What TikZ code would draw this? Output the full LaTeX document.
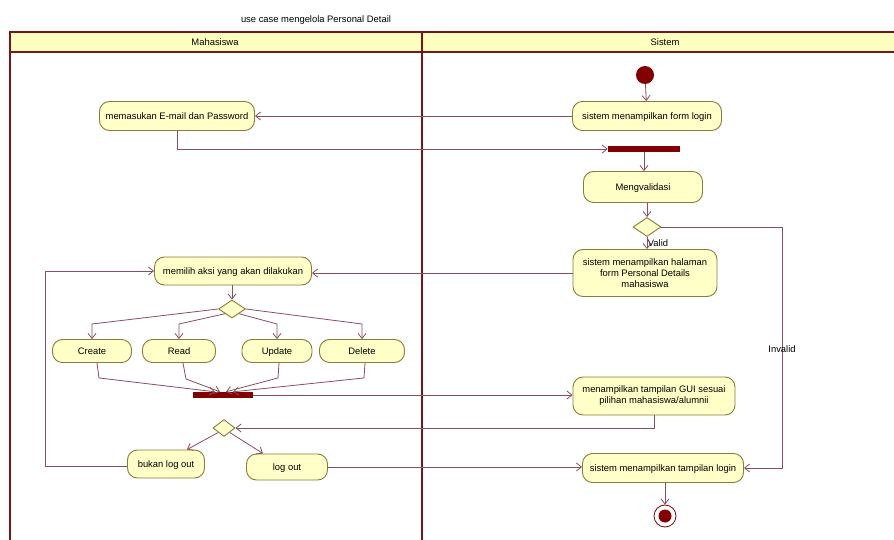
\documentclass[tikz,border=0pt]{standalone}
\usepackage{fontspec}
\setmainfont{Liberation Sans}
\usetikzlibrary{shapes.geometric,arrows.meta,calc}

\definecolor{laneline}{HTML}{7A1418}
\definecolor{headfill}{HTML}{FFFFC0}
\definecolor{actfill}{HTML}{FFFFC8}
\definecolor{actline}{HTML}{8A7A3C}
\definecolor{flowline}{HTML}{8B4E5C}
\definecolor{solid}{HTML}{820000}

\tikzset{
  act/.style={draw=actline, fill=actfill, line width=0.9pt, rounded corners=10pt,
    align=center, inner sep=2pt, font=\fontsize{9.4}{11}\selectfont},
  oneline/.style={text height=1.6ex, text depth=0.45ex},
  decision/.style={diamond, draw=actline, fill=actfill, line width=0.9pt, inner sep=0pt},
  bar/.style={fill=solid, draw=none, inner sep=0pt},
  flow/.style={draw=flowline, line width=0.8pt, -{Straight Barb[length=5pt,width=8pt]}},
  lane/.style={draw=laneline, line width=1.6pt},
  lbl/.style={font=\fontsize{9.4}{11}\selectfont, inner sep=1pt}
}

\begin{document}
\begin{tikzpicture}[x=1pt,y=-1pt]
  \useasboundingbox (0,0) rectangle (894,540);
  \clip (0,0) rectangle (894,540);
  \fill[white] (0,0) rectangle (894,540);

  % title
  \node[lbl] (title) at (316,20) {use case mengelola Personal Detail};

  % swimlanes
  \fill[headfill] (10,32) rectangle (900,52);
  \draw[lane] (10,545) -- (10,32) -- (900,32);
  \draw[lane, line width=1.2pt] (10,52) -- (900,52);
  \draw[lane, line width=2.2pt] (422,32) -- (422,545);
  \node[lbl] (laneA) at (215,42) {Mahasiswa};
  \node[lbl] (laneB) at (665,42) {Sistem};

  % Sistem lane
  \node[circle, fill=solid, minimum size=18pt, inner sep=0pt] (start) at (645,75) {};
  \node[act, oneline, minimum width=149pt, minimum height=29pt] (login) at (647,116) {sistem menampilkan form login};
  \node[bar, minimum width=72pt, minimum height=6pt] (fork) at (644,149) {};
  \node[act, oneline, minimum width=119pt, minimum height=31pt] (validasi) at (643,187) {Mengvalidasi};
  \node[decision, minimum width=28pt, minimum height=19pt] (dec1) at (647,227) {};
  \node[act, minimum width=144pt, minimum height=47pt] (halaman) at (645,273)
    {sistem menampilkan halaman\\form Personal Details\\mahasiswa};
  \node[act, minimum width=162pt, minimum height=38pt] (gui) at (654,396)
    {menampilkan tampilan GUI sesuai\\pilihan mahasiswa/alumnii};
  \node[act, oneline, minimum width=161pt, minimum height=29pt] (tampil) at (663,468) {sistem menampilkan tampilan login};
  \node[circle, draw=solid, fill=white, line width=0.8pt, minimum size=22pt, inner sep=0pt] (final) at (665,516) {};
  \node[circle, fill=solid, minimum size=13pt, inner sep=0pt] (finaldot) at (665,516) {};

  % Mahasiswa lane
  \node[act, oneline, minimum width=155pt, minimum height=29pt] (email) at (177,116) {memasukan E-mail dan Password};
  \node[act, oneline, minimum width=157pt, minimum height=28pt] (memilih) at (233,271) {memilih aksi yang akan dilakukan};
  \node[decision, minimum width=27pt, minimum height=18pt] (dec2) at (232,309) {};
  \node[act, oneline, minimum width=79pt, minimum height=23pt] (create) at (92,351) {Create};
  \node[act, oneline, minimum width=73pt, minimum height=23pt] (read) at (179,351) {Read};
  \node[act, oneline, minimum width=70pt, minimum height=23pt] (update) at (277,351) {Update};
  \node[act, oneline, minimum width=85pt, minimum height=23pt] (delete) at (362,351) {Delete};
  \node[bar, minimum width=60pt, minimum height=6pt] (join) at (223,395) {};
  \node[decision, minimum width=22pt, minimum height=17pt] (dec3) at (224,428) {};
  \node[act, oneline, minimum width=77pt, minimum height=28pt] (bukan) at (166,464) {bukan log out};
  \node[act, oneline, minimum width=81pt, minimum height=26pt] (logout) at (287,467) {log out};

  % control flows
  \draw[flow] (start) -- (login);
  \draw[flow] (login.west) -- (email.east);
  \draw[flow] (email.south) -- (177,149) -- (fork.west);
  \draw[flow] (fork.south) -- (validasi.north -| fork.south);
  \draw[flow] (validasi.south -| dec1.north) -- (dec1.north);
  \draw[flow] (dec1.south) -- (halaman.north -| dec1.south);
  \node[lbl] (valid) at (658,243) {Valid};
  \coordinate (invA) at (782,227);
  \coordinate (invB) at (782,468);
  \draw[flow] (dec1.east) -- (invA) -- (invB) -- (tampil.east);
  \node[lbl] (invalid) at (782,349) {Invalid};
  \draw[flow] (halaman.west) -- (memilih.east |- halaman.west);
  \draw[flow] (memilih.south -| dec2.north) -- (dec2.north);

  \draw[flow] (dec2.west) -- (92,324) -- (create.north);
  \draw[flow] (dec2.south west) -- (179,324) -- (read.north);
  \draw[flow] (dec2.south east) -- (277,324) -- (update.north);
  \draw[flow] (dec2.east) -- (362,324) -- (delete.north);

  \draw[flow] ($(create.south)+(5,0)$) -- ++(2,15) -- ($(join.north)+(-8,0)$);
  \draw[flow] ($(read.south)+(4,0)$) -- ++(3,16) -- ($(join.north)+(-3,0)$);
  \draw[flow] ($(update.south)+(2,0)$) -- ++(-1,15) -- ($(join.north)+(3,0)$);
  \draw[flow] ($(delete.south)+(3,0)$) -- ++(-1,15) -- ($(join.north)+(10,0)$);

  \draw[flow] (join.east) -- (gui.west |- join.east);
  \draw[flow] (gui.south) -- (654,428) -- (dec3.east);
  \draw[flow] (dec3.south west) -- ($(bukan.north)+(21,0)$);
  \draw[flow] (dec3.south east) -- ($(logout.north)+(-24,0)$);
  \coordinate (loopA) at (45,466);
  \coordinate (loopB) at (45,271);
  \draw[flow] (bukan.west |- loopA) -- (loopA) -- (loopB) -- (memilih.west);
  \draw[flow] (logout.east) -- (tampil.west |- logout.east);
  \draw[flow] (tampil.south -| final.north) -- (final.north);
\end{tikzpicture}
\end{document}
